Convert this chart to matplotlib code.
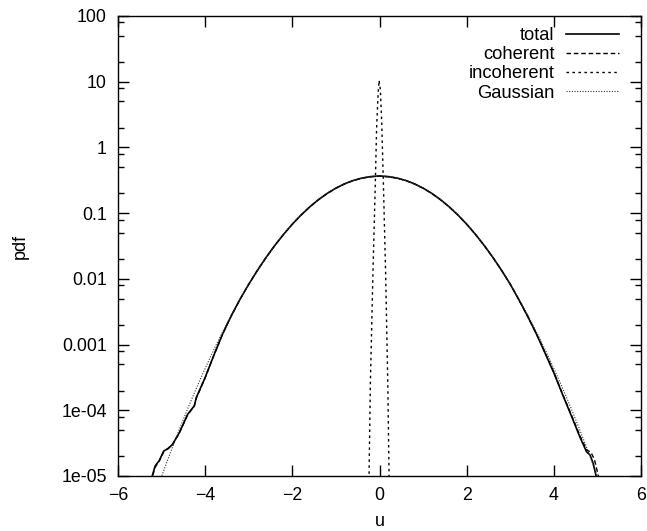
import numpy as np
import matplotlib
matplotlib.use('Agg')
import matplotlib.pyplot as plt
from matplotlib.ticker import FixedLocator, LogLocator, NullFormatter, NullLocator

plt.rcParams['font.family'] = ['Liberation Sans', 'DejaVu Sans']

# total pdf (solid)
u_total = [-5.25, -5.15, -5.05, -4.95, -4.85, -4.75, -4.6, -4.4, -4.25, -4.2, -4.0, -3.8, -3.6,
           -3.4, -3.2, -3.0, -2.8, -2.6, -2.4, -2.2, -2.0, -1.8, -1.6, -1.4, -1.2, -1.0, -0.8,
           -0.6, -0.4, -0.2, 0.0, 0.2, 0.4, 0.6, 0.8, 1.0, 1.2, 1.4, 1.6, 1.8, 2.0, 2.2, 2.4,
           2.6, 2.8, 3.0, 3.2, 3.4, 3.6, 3.8, 4.0, 4.2, 4.4, 4.6, 4.75, 4.83, 4.9, 4.97, 5.02]
pdf_total = [8.3e-6, 1.41e-5, 1.74e-5, 2.4e-5, 2.63e-5, 3.02e-5, 4.47e-5, 8.7e-5, 1.17e-4, 1.58e-4,
             3.16e-4, 6.9e-4, 1.45e-3, 2.75e-3, 4.9e-3, 8.29e-3, 1.35e-2, 2.13e-2, 3.24e-2,
             4.77e-2, 6.80e-2, 9.36e-2, 0.1246, 0.1604, 0.1997, 0.2403, 0.2796, 0.3145, 0.342,
             0.360, 0.368, 0.360, 0.342, 0.3145, 0.2796, 0.2403, 0.1997, 0.1604, 0.1246, 9.36e-2,
             6.80e-2, 4.77e-2, 3.24e-2, 2.13e-2, 1.35e-2, 8.29e-3, 4.79e-3, 2.69e-3, 1.45e-3,
             7.4e-4, 3.72e-4, 1.74e-4, 8.3e-5, 3.89e-5, 2.34e-5, 2.09e-5, 1.58e-5, 1.0e-5, 7.6e-6]

# coherent part (dashed)
u_coh = [-5.25, -5.15, -5.05, -4.95, -4.85, -4.75, -4.6, -4.4, -4.25, -4.2, -4.0, -3.8, -3.6,
         -3.4, -3.2, -3.0, -2.8, -2.6, -2.4, -2.2, -2.0, -1.8, -1.6, -1.4, -1.2, -1.0, -0.8,
         -0.6, -0.4, -0.2, 0.0, 0.2, 0.4, 0.6, 0.8, 1.0, 1.2, 1.4, 1.6, 1.8, 2.0, 2.2, 2.4,
         2.6, 2.8, 3.0, 3.2, 3.4, 3.6, 3.8, 4.0, 4.2, 4.4, 4.6, 4.75, 4.85, 4.93, 5.0, 5.06]
pdf_coh = [8.0e-6, 1.35e-5, 1.70e-5, 2.35e-5, 2.6e-5, 3.0e-5, 4.4e-5, 8.6e-5, 1.15e-4, 1.55e-4,
           3.12e-4, 6.85e-4, 1.44e-3, 2.74e-3, 4.88e-3, 8.27e-3, 1.35e-2, 2.12e-2, 3.23e-2,
           4.76e-2, 6.79e-2, 9.34e-2, 0.1243, 0.1600, 0.1992, 0.2397, 0.2789, 0.3137, 0.341,
           0.358, 0.365, 0.358, 0.341, 0.3137, 0.2789, 0.2397, 0.1992, 0.1600, 0.1243, 9.34e-2,
           6.79e-2, 4.76e-2, 3.23e-2, 2.12e-2, 1.35e-2, 8.27e-3, 4.78e-3, 2.69e-3, 1.46e-3,
           7.5e-4, 3.78e-4, 1.78e-4, 8.6e-5, 4.1e-5, 2.5e-5, 2.3e-5, 1.8e-5, 1.15e-5, 7.8e-6]

# incoherent part (short dashes, narrow spike)
u_inc = [-0.28, -0.24, -0.21, -0.15, -0.1, -0.065, -0.03, -0.01, 0.02, 0.05, 0.085, 0.14, 0.19, 0.22, 0.25]
pdf_inc = [2.5e-6, 1e-5, 2.5e-4, 1.26e-2, 0.224, 2.09, 6.9, 10.5, 7.6, 2.5, 0.363, 1.26e-2, 2.6e-4, 1e-5, 2.5e-6]

# Gaussian reference (dotted)
u_gauss = [-5.2, -5.0, -4.8, -4.6, -4.4, -4.2, -4.0, -3.8, -3.6, -3.4, -3.2, -3.0, -2.8, -2.6,
           -2.4, -2.2, -2.0, -1.8, -1.6, -1.4, -1.2, -1.0, -0.8, -0.6, -0.4, -0.2, 0.0, 0.2,
           0.4, 0.6, 0.8, 1.0, 1.2, 1.4, 1.6, 1.8, 2.0, 2.2, 2.4, 2.6, 2.8, 3.0, 3.2, 3.4,
           3.6, 3.8, 4.0, 4.2, 4.4, 4.6, 4.8, 5.0, 5.2]
pdf_gauss = [4.18e-6, 9.85e-6, 2.25e-5, 4.96e-5, 1.058e-4, 2.18e-4, 4.35e-4, 8.39e-4, 1.565e-3,
             2.82e-3, 4.91e-3, 8.29e-3, 1.35e-2, 2.127e-2, 3.24e-2, 4.772e-2, 6.80e-2, 9.36e-2,
             0.1246, 0.1604, 0.1997, 0.2403, 0.2796, 0.3145, 0.342, 0.3598, 0.366, 0.3598,
             0.342, 0.3145, 0.2796, 0.2403, 0.1997, 0.1604, 0.1246, 9.36e-2, 6.80e-2, 4.772e-2,
             3.24e-2, 2.127e-2, 1.35e-2, 8.29e-3, 4.91e-3, 2.82e-3, 1.565e-3, 8.39e-4, 4.35e-4,
             2.18e-4, 1.058e-4, 4.96e-5, 2.25e-5, 9.85e-6, 4.18e-6]

x_ticks = [-6, -4, -2, 0, 2, 4, 6]
y_ticks = [1e-5, 1e-4, 1e-3, 1e-2, 1e-1, 1, 10, 100]
y_labels = ['1e-05', '1e-04', '0.001', '0.01', '0.1', '1', '10', '100']

W, H = 647, 531
fig = plt.figure(figsize=(W / 100, H / 100), dpi=100)
ax = fig.add_axes([118 / W, 1 - 476 / H, (641 - 118) / W, (476 - 16) / H])

ax.plot(u_total, pdf_total, color='black', lw=1.2, linestyle='-', label='total')
ax.plot(u_coh, pdf_coh, color='black', lw=1.0, linestyle=(0, (3.3, 2.0)), label='coherent')
ax.plot(u_inc, pdf_inc, color='black', lw=1.0, linestyle=(0, (1.8, 2.5)), label='incoherent')
ax.plot(u_gauss, pdf_gauss, color='#333333', lw=0.8, linestyle=(0, (1.0, 1.4)), label='Gaussian')

ax.set_yscale('log')
ax.set_xlim(-6, 6)
ax.set_ylim(1e-5, 100)

ax.xaxis.set_major_locator(FixedLocator(x_ticks))
ax.xaxis.set_minor_locator(NullLocator())
ax.set_yticks(y_ticks)
ax.set_yticklabels(y_labels)
ax.yaxis.set_minor_locator(LogLocator(base=10, subs=[2, 5, 8]))
ax.yaxis.set_minor_formatter(NullFormatter())

ax.tick_params(which='both', direction='in', top=True, right=True, labelsize=12.8, color='black')
ax.tick_params(which='major', length=8, width=1.0, pad=8)
ax.tick_params(which='minor', length=4, width=1.0)
for s in ax.spines.values():
    s.set_linewidth(1.0)

ax.set_xlabel('u', fontsize=13)
ax.set_ylabel('pdf', fontsize=13)
ax.xaxis.set_label_coords(0.5, -0.08)
ax.yaxis.set_label_coords(-0.17, 0.5)

ax.legend(loc='upper right', bbox_to_anchor=(0.957, 0.976), frameon=False, markerfirst=False,
          handlelength=2.85, handletextpad=0.65, labelspacing=0.12, borderaxespad=0, borderpad=0,
          fontsize=13.2)

fig.savefig('out.png', dpi=100)
